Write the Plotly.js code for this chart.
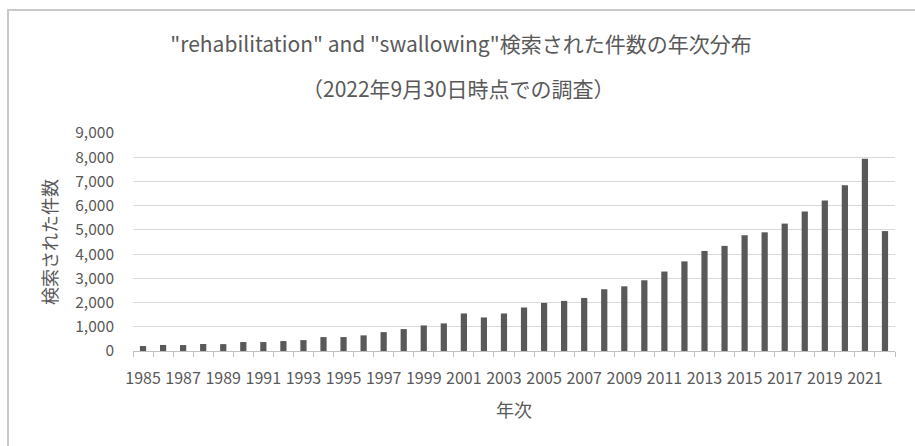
<!DOCTYPE html>
<html>
<head>
<meta charset="utf-8">
<script src="https://cdn.plot.ly/plotly-3.0.1.min.js"></script>
<style>
  html, body { margin: 0; padding: 0; background: #ffffff; }
  #wrap { position: relative; width: 915px; height: 446px; overflow: hidden; }
  #frame { position: absolute; left: 7px; top: 9px; width: 960px; height: 500px;
           border-top: 2px solid #c9c9c9; border-left: 2px solid #c9c9c9; box-sizing: border-box; pointer-events: none; }
  #chart { position: absolute; left: 0; top: 0; width: 915px; height: 446px; }
</style>
</head>
<body>
<div id="wrap">
  <div id="frame"></div>
  <div id="chart"></div>
</div>
<script>
const years = ["1985","1986","1987","1988","1989","1990","1991","1992","1993","1994",
               "1995","1996","1997","1998","1999","2000","2001","2002","2003","2004",
               "2005","2006","2007","2008","2009","2010","2011","2012","2013","2014",
               "2015","2016","2017","2018","2019","2020","2021","2022"];
const counts = [205,250,245,290,285,370,370,410,450,575,
                575,645,780,905,1055,1140,1550,1385,1550,1795,
                1985,2070,2190,2550,2670,2920,3280,3700,4130,4340,
                4780,4900,5260,5760,6210,6840,7940,4950];
const tickLabels = years.map((y, i) => (i % 2 === 0 ? y : ""));
const titleLine1 = '"rehabilitation" and "swallowing"検索された件数の年次分布';
const titleLine2 = '（2022年9月30日時点での調査）';
const xTitle = '年次';
const yTitle = '検索された件数';

const FONT = '"Noto Sans CJK JP", "Noto Sans", sans-serif';
const TXT = '#595959';

const trace = {
  type: 'bar',
  x: years,
  y: counts,
  marker: { color: '#595959' },
  hoverinfo: 'x+y'
};

const layout = {
  width: 915,
  height: 446,
  paper_bgcolor: 'rgba(0,0,0,0)',
  plot_bgcolor: 'rgba(0,0,0,0)',
  margin: { l: 132.5, r: 20, t: 133, b: 95, pad: 0 },
  font: { family: FONT, color: TXT, size: 15 },
  showlegend: false,
  bargap: 0.69,
  title: {
    text: titleLine1,
    font: { family: FONT, size: 21, color: TXT },
    xref: 'container', yref: 'container',
    x: 461 / 915, xanchor: 'center',
    y: 1 - 45 / 446, yanchor: 'middle'
  },
  annotations: [{
    text: titleLine2,
    xref: 'paper', yref: 'paper',
    x: (458 - 132.5) / (895 - 132.5), xanchor: 'center',
    y: (351 - 88) / 218, yanchor: 'middle',
    showarrow: false,
    font: { family: FONT, size: 21, color: TXT }
  }],
  xaxis: {
    type: 'category',
    tickmode: 'array',
    tickvals: years,
    ticktext: tickLabels,
    tickson: 'boundaries',
    ticks: 'outside',
    ticklen: 5,
    tickwidth: 1,
    tickcolor: '#bfbfbf',
    showline: true,
    linecolor: '#bfbfbf',
    linewidth: 1,
    showgrid: false,
    tickangle: 0,
    ticklabelstandoff: 13,
    tickfont: { family: FONT, size: 16, color: TXT },
    title: { text: xTitle, font: { family: FONT, size: 18, color: TXT }, standoff: 16 }
  },
  yaxis: {
    range: [0, 9000],
    dtick: 1000,
    tick0: 0,
    tickformat: ',d',
    showgrid: true,
    gridcolor: '#d9d9d9',
    gridwidth: 1,
    zeroline: false,
    showline: false,
    ticks: '',
    ticklabelstandoff: 18,
    tickfont: { family: FONT, size: 15.5, color: TXT },
    title: { text: yTitle, font: { family: FONT, size: 18, color: TXT }, standoff: 12 }
  }
};

Plotly.newPlot('chart', [trace], layout, { displayModeBar: false, staticPlot: true });
</script>
</body>
</html>
